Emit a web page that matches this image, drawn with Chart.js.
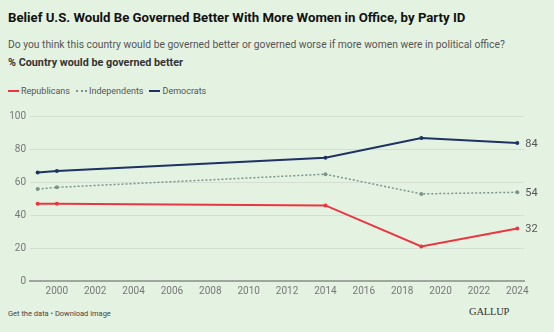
<!DOCTYPE html>
<html>
<head>
<meta charset="utf-8">
<script src="https://cdn.jsdelivr.net/npm/chart.js@4"></script>
<style>
  html, body { margin: 0; padding: 0; }
  body {
    width: 554px; height: 332px; overflow: hidden; position: relative;
    background: #e4f2e2; font-family: Roboto, "Noto Sans", sans-serif; color: #222;
  }
  .title { position: absolute; left: 8px; top: 10px; font-size: 13.2px; font-weight: 700; color: #111; white-space: nowrap; }
  .sub { position: absolute; left: 8px; top: 38px; font-size: 10.3px; color: #555; white-space: nowrap; }
  .measure { position: absolute; left: 8px; top: 56px; font-size: 10.8px; font-weight: 700; color: #333; white-space: nowrap; }
  .legend { position: absolute; left: 8px; top: 86px; font-size: 9px; color: #555; white-space: nowrap; display: flex; gap: 6px; }
  .legend span { display: inline-flex; align-items: center; }
  .legend i { display: inline-block; width: 11px; margin-right: 2px; border-top: 2px solid; }
  .footer { position: absolute; left: 8px; top: 309px; font-size: 7.5px; color: #444; }
  .brand { position: absolute; left: 469px; top: 306px; font-family: "Liberation Serif", "DejaVu Serif", serif; font-size: 10.5px; color: #333; letter-spacing: -0.2px; }
  #wrap { position: absolute; left: 0; top: 100px; width: 554px; height: 200px; }
</style>
</head>
<body>
<div class="title">Belief U.S. Would Be Governed Better With More Women in Office, by Party ID</div>
<div class="sub">Do you think this country would be governed better or governed worse if more women were in political office?</div>
<div class="measure">% Country would be governed better</div>
<div class="legend">
  <span><i style="border-color:#ec3540"></i>Republicans</span>
  <span><i style="border-color:#7d948a;border-top-style:dotted"></i>Independents</span>
  <span><i style="border-color:#1e3264"></i>Democrats</span>
</div>
<div id="wrap"><canvas id="chart"></canvas></div>
<div class="footer">Get the data • Download image</div>
<div class="brand">GALLUP</div>

<script>
const years = [1999, 2000, 2014, 2019, 2024];
const republicans = [47, 47, 46, 21, 32];
const independents = [56, 57, 65, 53, 54];
const democrats = [66, 67, 75, 87, 84];
const xTicks = [2000, 2002, 2004, 2006, 2008, 2010, 2012, 2014, 2016, 2018, 2020, 2022, 2024];
const yTicks = [0, 20, 40, 60, 80, 100];

const toPoints = vals => vals.map((v, i) => ({ x: years[i], y: v }));

// value labels at the last point of each line
const endLabels = {
  id: 'endLabels',
  afterDatasetsDraw(chart) {
    const { ctx } = chart;
    ctx.save();
    ctx.font = '11px Roboto, "Noto Sans", sans-serif';
    ctx.fillStyle = '#555';
    ctx.textBaseline = 'middle';
    chart.data.datasets.forEach((ds, i) => {
      const meta = chart.getDatasetMeta(i);
      const last = meta.data[meta.data.length - 1];
      ctx.fillText(String(ds.data[ds.data.length - 1].y), last.x + 8, last.y + 1);
    });
    ctx.restore();
  }
};

const line = (label, vals, color, extra) => Object.assign({
  label, data: toPoints(vals), borderColor: color, backgroundColor: color,
  borderWidth: 2, pointRadius: 2, pointBorderWidth: 0
}, extra);

new Chart(document.getElementById('chart'), {
  type: 'line',
  data: {
    datasets: [
      line('Republicans', republicans, '#ec3540'),
      line('Independents', independents, '#7d948a', { borderWidth: 1.5, borderDash: [2, 2] }),
      line('Democrats', democrats, '#1e3264')
    ]
  },
  options: {
    responsive: true,
    maintainAspectRatio: false,
    animation: false,
    layout: { padding: { top: 16.7, right: 30, left: 0, bottom: 0 } },
    plugins: { legend: { display: false }, tooltip: { enabled: false } },
    scales: {
      x: {
        type: 'linear',
        min: 1998.6,
        max: 2024.35,
        afterBuildTicks: s => { s.ticks = xTicks.map(v => ({ value: v })); },
        afterFit: s => { s.height = 19; },
        grid: { display: false, drawTicks: false },
        border: { display: true, color: '#9ea79c', width: 2 },
        ticks: { padding: 4, color: '#777', font: { family: 'Roboto', size: 10 }, maxRotation: 0, autoSkip: false, callback: v => String(v) }
      },
      y: {
        min: 0,
        max: 100,
        afterBuildTicks: s => { s.ticks = yTicks.map(v => ({ value: v })); },
        afterFit: s => { s.width = 30; },
        grid: { color: '#d3e0d1', lineWidth: 1, drawTicks: false },
        border: { display: false },
        ticks: { padding: 4, color: '#777', font: { family: 'Roboto', size: 10 } }
      }
    }
  },
  plugins: [endLabels]
});
</script>
</body>
</html>
